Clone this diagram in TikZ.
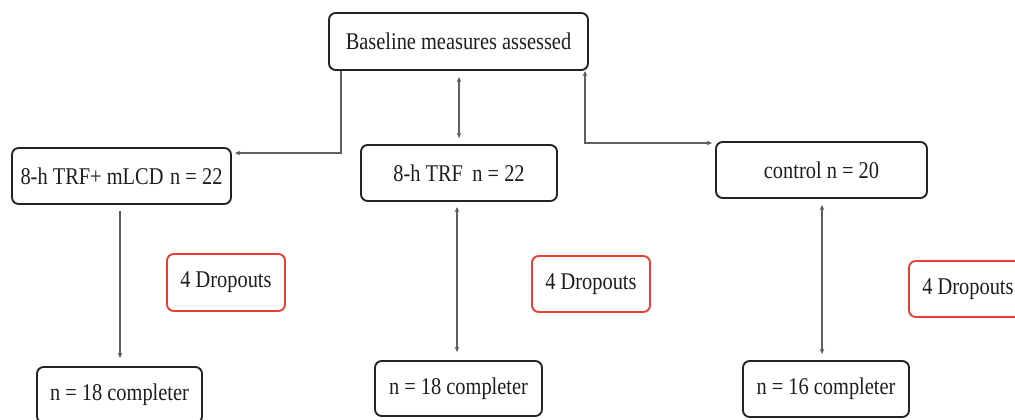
\documentclass[tikz,border=0pt]{standalone}
\usepackage{fontspec}
\setmainfont{Liberation Serif}[FakeStretch=0.85]
\usetikzlibrary{arrows.meta}
\definecolor{boxline}{RGB}{35,35,35}
\definecolor{dropred}{RGB}{232,62,52}
\definecolor{conngray}{RGB}{95,95,95}
\definecolor{txt}{RGB}{30,30,30}
\tikzset{
  box/.style={draw=boxline, line width=1.4pt, rounded corners=5pt, inner sep=0pt, fill=white, text=txt, font=\fontsize{18}{20}\selectfont},
  dropbox/.style={box, draw=dropred},
  conn/.style={draw=conngray, line width=0.8pt, arrows={-}},
  tip/.style={arrows={-{Stealth[length=4pt,width=3.5pt]}}},
  tips/.style={arrows={{Stealth[length=4pt,width=3.5pt]}-{Stealth[length=4pt,width=3.5pt]}}},
}
\begin{document}
\begin{tikzpicture}[x=0.75pt,y=-0.75pt]
\useasboundingbox (0,0) rectangle (1015,419);
\def\u{0.75pt}
% nodes
\node[box, minimum width=259*\u, minimum height=57*\u] (base) at (458.5,41.5) {Baseline measures assessed};
\node[box, minimum width=219*\u, minimum height=56*\u] (A) at (121.5,176) {8-h TRF+ mLCD\hspace{5pt}n = 22};
\node[box, minimum width=196*\u, minimum height=56*\u] (B) at (459,173) {8-h TRF\hspace{7pt}n = 22};
\node[box, minimum width=211*\u, minimum height=56*\u] (C) at (821.5,170) {control n = 20\hspace{10pt}};
\node[dropbox, minimum width=118*\u, minimum height=57*\u] (D1) at (226,282.5) {4 Dropouts};
\node[dropbox, minimum width=118*\u, minimum height=56*\u] (D2) at (591,284) {4 Dropouts};
\node[dropbox, minimum width=118*\u, minimum height=56*\u] (D3) at (968,289) {4 Dropouts};
\node[box, minimum width=165*\u, minimum height=56*\u] (E1) at (119.5,395) {n = 18 completer};
\node[box, minimum width=167*\u, minimum height=55*\u] (E2) at (458.5,388.5) {n = 18 completer};
\node[box, minimum width=166*\u, minimum height=56*\u] (E3) at (826,389) {n = 16 completer};
% connector guide coordinates
\coordinate (k1) at (341,153);
\coordinate (k2) at (585,143);
\coordinate (xB) at (459,0);
\coordinate (xA) at (120,0);
\coordinate (xB2) at (457,0);
\coordinate (xC) at (822,0);
% connectors
\draw[conn, tip] (base.south -| k1) |- ([xshift=2.25pt]A.east |- k1);
\draw[conn, tips, shorten <=4.5pt, shorten >=4.5pt] (base.south -| xB) -- (B.north -| xB);
\draw[conn, tips] (base.south -| k2) |- ([xshift=-2.25pt]C.west |- k2);
\draw[conn, tip, shorten <=4.5pt, shorten >=6pt] (A.south -| xA) -- (E1.north -| xA);
\draw[conn, tips, shorten <=3.75pt, shorten >=6pt] (B.south -| xB2) -- (E2.north -| xB2);
\draw[conn, tips, shorten <=4.5pt, shorten >=4.5pt] (C.south -| xC) -- (E3.north -| xC);
\end{tikzpicture}
\end{document}
